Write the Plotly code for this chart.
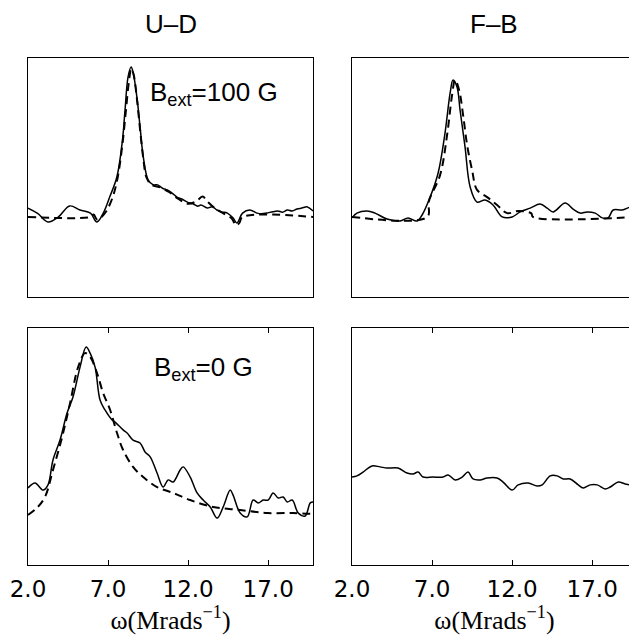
import plotly.graph_objects as go
from plotly.subplots import make_subplots

# ---------------- data (omega in Mrad/s, amplitude normalised to panel height) ----------------
ud100_solid_w = [2.0, 2.6, 3.25, 3.9, 4.6, 5.25, 5.9, 6.3, 6.7, 7.1, 7.55, 7.9, 8.06, 8.25, 8.44, 8.56,
                 8.8, 9.0, 9.2, 9.5, 9.8, 10.1, 10.4, 10.7, 11.0, 11.3, 11.6, 11.95, 12.3, 12.6, 12.8,
                 13.2, 13.5, 13.8, 14.1, 14.45, 14.8, 15.05, 15.4, 15.85, 16.3, 16.6, 16.9, 17.3, 17.6,
                 17.9, 18.2, 18.5, 18.8, 19.1, 19.45, 19.8]
ud100_solid_a = [0.372, 0.350, 0.314, 0.335, 0.381, 0.364, 0.351, 0.314, 0.351, 0.418, 0.502, 0.657, 0.782,
                 0.921, 0.962, 0.941, 0.837, 0.711, 0.586, 0.490, 0.470, 0.469, 0.455, 0.448, 0.435, 0.418,
                 0.410, 0.397, 0.390, 0.380, 0.385, 0.372, 0.378, 0.364, 0.356, 0.351, 0.331, 0.310, 0.351,
                 0.364, 0.351, 0.348, 0.351, 0.357, 0.360, 0.355, 0.364, 0.360, 0.368, 0.372, 0.377, 0.360]
ud100_fit_w = [2.0, 5.9, 6.1, 6.3, 6.5, 6.9, 7.3, 7.6, 7.9, 8.1, 8.3, 8.45, 8.6, 8.8, 9.0, 9.2, 9.4, 9.7,
               10.2, 10.8, 11.4, 12.0, 12.5, 12.9, 13.2, 13.7, 14.2, 14.7, 15.0, 15.2, 15.4, 19.8]
ud100_fit_a = [0.335, 0.335, 0.345, 0.325, 0.330, 0.360, 0.420, 0.500, 0.640, 0.770, 0.900, 0.955, 0.930,
               0.830, 0.700, 0.580, 0.500, 0.470, 0.460, 0.440, 0.410, 0.390, 0.400, 0.420, 0.400, 0.370,
               0.350, 0.330, 0.300, 0.310, 0.335, 0.335]

fb100_solid_w = [2.0, 2.31, 2.94, 3.44, 4.19, 5.0, 5.5, 6.06, 6.38, 6.88, 7.38, 7.81, 8.13, 8.31, 8.56,
                 8.75, 9.06, 9.38, 9.81, 10.31, 10.81, 11.38, 12.0, 12.5, 13.13, 13.75, 14.19, 14.56,
                 15.31, 15.81, 16.25, 16.69, 17.19, 17.63, 18.0, 18.31, 18.88, 19.5, 19.81]
fb100_solid_a = [0.331, 0.351, 0.360, 0.351, 0.326, 0.318, 0.331, 0.318, 0.343, 0.418, 0.519, 0.686, 0.854,
                 0.908, 0.879, 0.782, 0.628, 0.460, 0.397, 0.406, 0.385, 0.335, 0.335, 0.356, 0.372, 0.389,
                 0.372, 0.356, 0.393, 0.368, 0.351, 0.356, 0.351, 0.331, 0.331, 0.364, 0.364, 0.377, 0.360]
fb100_fit_w = [2.0, 6.7, 6.8, 7.5, 7.94, 8.25, 8.44, 8.69, 8.94, 9.19, 9.5, 9.81, 10.44, 11.06, 11.69,
               12.4, 13.2, 13.3, 19.8]
fb100_fit_a = [0.335, 0.335, 0.400, 0.510, 0.678, 0.845, 0.908, 0.866, 0.761, 0.636, 0.531, 0.448, 0.418,
               0.385, 0.351, 0.360, 0.350, 0.335, 0.335]

ud0_solid_w = [2.0, 2.44, 2.94, 3.25, 3.56, 4.0, 4.44, 4.81, 5.25, 5.63, 5.88, 6.19, 6.5, 6.81, 7.25,
               7.44, 7.94, 8.19, 8.56, 9.0, 9.31, 9.63, 10.06, 10.44, 10.75, 11.06, 11.5, 11.69, 12.13,
               12.56, 12.94, 13.38, 13.81, 14.19, 14.63, 14.81, 15.25, 15.69, 16.06, 16.38, 16.69, 17.0,
               17.31, 17.63, 17.94, 18.19, 18.5, 18.88, 19.31, 19.63, 19.81]
ud0_solid_a = [0.325, 0.346, 0.316, 0.338, 0.443, 0.527, 0.641, 0.709, 0.835, 0.920, 0.894, 0.835, 0.696,
               0.654, 0.612, 0.603, 0.570, 0.557, 0.527, 0.515, 0.477, 0.456, 0.388, 0.329, 0.359, 0.350,
               0.401, 0.414, 0.371, 0.304, 0.274, 0.245, 0.198, 0.245, 0.316, 0.295, 0.219, 0.203, 0.274,
               0.262, 0.274, 0.274, 0.304, 0.283, 0.287, 0.266, 0.274, 0.219, 0.207, 0.262, 0.266]
ud0_fit_w = [2.0, 2.56, 3.06, 3.56, 4.13, 4.63, 5.13, 5.56, 5.88, 6.31, 6.69, 7.13, 7.56, 7.94, 8.56,
             9.19, 10.06, 11.06, 12.13, 13.56, 15.25, 16.94, 18.56, 19.81]
ud0_fit_a = [0.211, 0.241, 0.287, 0.401, 0.540, 0.684, 0.835, 0.894, 0.878, 0.810, 0.726, 0.654, 0.557,
             0.485, 0.414, 0.371, 0.329, 0.304, 0.274, 0.245, 0.232, 0.219, 0.219, 0.215]

fb0_solid_w = [2.0, 2.31, 2.69, 3.25, 3.75, 4.19, 4.88, 5.44, 5.81, 6.13, 6.44, 7.06, 7.69, 8.0, 8.44,
               8.88, 9.25, 9.56, 10.0, 10.44, 11.06, 11.44, 12.0, 12.38, 13.0, 13.56, 13.88, 14.38,
               14.81, 15.19, 15.63, 16.13, 16.44, 16.88, 17.31, 17.81, 18.13, 18.63, 19.06, 19.5, 19.81]
fb0_solid_a = [0.371, 0.376, 0.392, 0.418, 0.414, 0.409, 0.409, 0.388, 0.384, 0.392, 0.371, 0.371, 0.371,
               0.380, 0.359, 0.371, 0.392, 0.363, 0.359, 0.367, 0.367, 0.350, 0.316, 0.338, 0.346, 0.333,
               0.338, 0.376, 0.376, 0.363, 0.363, 0.338, 0.325, 0.338, 0.338, 0.321, 0.329, 0.350, 0.342,
               0.338, 0.346]

tick_vals = [2.0, 7.0, 12.0, 17.0]
tick_text = ["2.0", "7.0", "12.0", "17.0"]
col_titles = ["U\u2013D", "F\u2013B"]
field_labels = ["B<sub>ext</sub>=100 G", "B<sub>ext</sub>=0 G"]
x_title = "\u03c9(Mrads<sup>\u22121</sup>)"

# ---------------- figure ----------------
fig = make_subplots(rows=2, cols=2, horizontal_spacing=0.064, vertical_spacing=0.061)

solid = dict(color="black", width=1.5)
dashed = dict(color="black", width=2, dash="8px,5px")

def add(w, a, line, r, c):
    fig.add_trace(go.Scatter(x=w, y=a, mode="lines", line=line, line_shape="spline",
                             hoverinfo="skip", showlegend=False), row=r, col=c)

add(ud100_fit_w, ud100_fit_a, dashed, 1, 1)
add(ud100_solid_w, ud100_solid_a, solid, 1, 1)
add(fb100_fit_w, fb100_fit_a, dashed, 1, 2)
add(fb100_solid_w, fb100_solid_a, solid, 1, 2)
add(ud0_fit_w, ud0_fit_a, dashed, 2, 1)
add(ud0_solid_w, ud0_solid_a, solid, 2, 1)
add(fb0_solid_w, fb0_solid_a, solid, 2, 2)

# domains to match pixel layout
xdom = {1: [0.0, 0.468], 2: [0.532, 1.0]}
ydom = {1: [0.5286, 1.0], 2: [0.0, 0.4675]}

for r in (1, 2):
    for c in (1, 2):
        idx = (r - 1) * 2 + c
        xa = "xaxis" if idx == 1 else f"xaxis{idx}"
        ya = "yaxis" if idx == 1 else f"yaxis{idx}"
        xprops = dict(domain=xdom[c], range=[2.0, 19.8], showgrid=False, zeroline=False,
                      showline=True, linecolor="black", linewidth=1.3)
        if r == 2:
            xprops.update(tickmode="array", tickvals=tick_vals, ticktext=tick_text,
                          ticks="inside", ticklen=5, tickwidth=1.3, tickcolor="black",
                          mirror="ticks", showticklabels=True, ticklabelstandoff=3,
                          tickfont=dict(family="DejaVu Sans", size=23, color="black"),
                          title=dict(text=x_title, standoff=0,
                                     font=dict(family="Liberation Serif", size=26, color="black")))
        else:
            xprops.update(ticks="", showticklabels=False, mirror=True)
        yprops = dict(domain=ydom[r], range=[0, 1], showgrid=False, zeroline=False,
                      showticklabels=False, ticks="", showline=True, linecolor="black",
                      linewidth=1.3, mirror=(c == 1))
        fig.layout[xa].update(xprops)
        fig.layout[ya].update(yprops)

# column titles
for c, t in zip((1, 2), col_titles):
    xc = (xdom[c][0] + xdom[c][1]) / 2
    fig.add_annotation(text=t, x=xc, y=1.0, xref="paper", yref="paper", yshift=34,
                       showarrow=False, xanchor="center", yanchor="middle",
                       font=dict(family="Liberation Sans", size=26, color="black"))

# field labels
fig.add_annotation(text=field_labels[0], x=9.5, y=0.85, xref="x", yref="y", showarrow=False,
                   xanchor="left", yanchor="middle",
                   font=dict(family="Liberation Sans", size=26, color="black"))
fig.add_annotation(text=field_labels[1], x=9.75, y=0.83, xref="x3", yref="y3", showarrow=False,
                   xanchor="left", yanchor="middle",
                   font=dict(family="Liberation Sans", size=26, color="black"))

# the page body adds an 8px offset, so the figure is 8px smaller with 8px less margin
fig.update_layout(width=629, height=631, margin=dict(l=20, r=0, t=50, b=74),
                  plot_bgcolor="white", paper_bgcolor="white")

fig.write_html("out.html")
